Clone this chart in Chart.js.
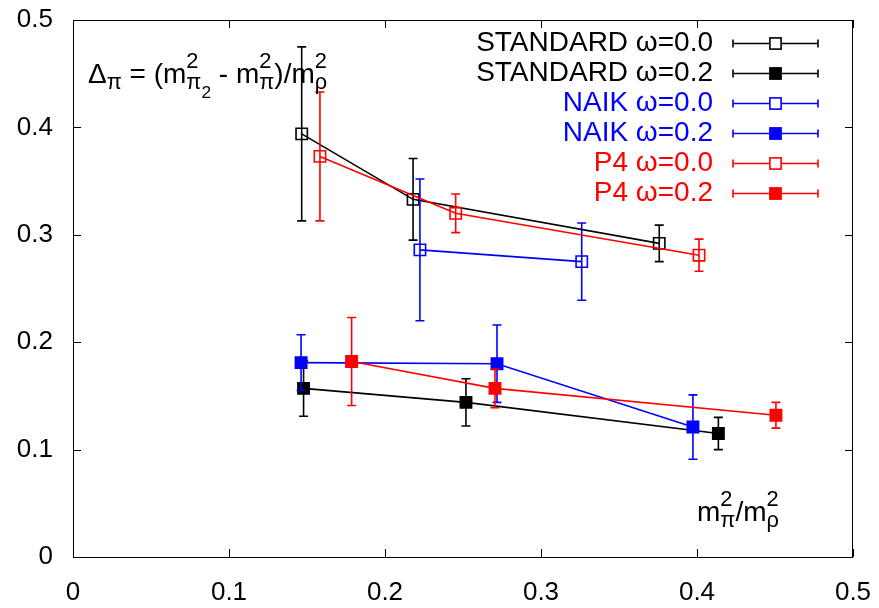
<!DOCTYPE html>
<html>
<head>
<meta charset="utf-8">
<title>Delta pi vs mpi2/mrho2</title>
<script src="https://cdn.jsdelivr.net/npm/chart.js@4.4.1/dist/chart.umd.min.js"></script>
<style>
  html, body { margin: 0; padding: 0; background: #fff; }
  #wrap { width: 879px; height: 608px; position: relative; }
</style>
</head>
<body>
<div id="wrap"><canvas id="deltaChart"></canvas></div>
<script>
// --- DATA ---
const seriesNames = ['STANDARD ω=0.0', 'STANDARD ω=0.2', 'NAIK ω=0.0', 'NAIK ω=0.2', 'P4 ω=0.0', 'P4 ω=0.2'];
const seriesColors = ['#000000', '#000000', '#0000ff', '#0000ff', '#ff0000', '#ff0000'];
const seriesFilled = [false, true, false, true, false, true];

const stdW0X = [0.1466, 0.2180, 0.3758];
const stdW0Y = [0.394, 0.333, 0.292];
const stdW0Err = [0.081, 0.038, 0.017];

const stdW2X = [0.1478, 0.2519, 0.4137];
const stdW2Y = [0.157, 0.144, 0.115];
const stdW2Err = [0.026, 0.022, 0.015];

const naikW0X = [0.2224, 0.3261];
const naikW0Y = [0.286, 0.275];
const naikW0Err = [0.066, 0.036];

const naikW2X = [0.1462, 0.2718, 0.3974];
const naikW2Y = [0.181, 0.180, 0.121];
const naikW2Err = [0.026, 0.036, 0.030];

const p4W0X = [0.1583, 0.2453, 0.4013];
const p4W0Y = [0.373, 0.320, 0.281];
const p4W0Err = [0.060, 0.018, 0.015];

const p4W2X = [0.1786, 0.2705, 0.4506];
const p4W2Y = [0.182, 0.157, 0.132];
const p4W2Err = [0.041, 0.018, 0.012];

const xTicks = [0, 0.1, 0.2, 0.3, 0.4, 0.5];
const yTicks = [0, 0.1, 0.2, 0.3, 0.4, 0.5];

const allX = [stdW0X, stdW2X, naikW0X, naikW2X, p4W0X, p4W2X];
const allY = [stdW0Y, stdW2Y, naikW0Y, naikW2Y, p4W0Y, p4W2Y];
const allErr = [stdW0Err, stdW2Err, naikW0Err, naikW2Err, p4W0Err, p4W2Err];

const FONT = "'Liberation Sans', Arial, Helvetica, sans-serif";

// gabung x dan y jadi titik {x, y}
const toPoints = (xs, ys) => xs.map((x, i) => ({ x: x, y: ys[i] }));

const datasets = seriesNames.map((name, k) => ({
    label: name,
    data: toPoints(allX[k], allY[k]),
    borderColor: seriesColors[k],
    borderWidth: 1.6,
    pointStyle: 'rect',
    pointRadius: 8,
    pointBorderWidth: 1.6,
    pointBorderColor: seriesColors[k],
    pointBackgroundColor: seriesFilled[k] ? seriesColors[k] : 'rgba(255,255,255,0)',
    showLine: true,
    tension: 0,
    order: seriesNames.length - k // seri terakhir digambar paling atas
}));

/**
 * Teks dengan superscript / subscript gaya gnuplot.
 * lv: 0 normal, 1 sup, -1 sub, -2 sub dari sub
 * keep: posisi x tidak maju, item berikutnya ditumpuk di atas/bawahnya
 */
const drawRich = (ctx, x, y, parts, size) => {
    let keepStart = null;
    let keepEnd = 0;
    parts.forEach(p => {
        const lv = p.lv || 0;
        let fs = size, dy = 0;
        if (lv === 1) { fs = size * 0.78; dy = -size * 0.55; }
        if (lv === -1) { fs = size * 0.78; dy = size * 0.22; }
        if (lv === -2) { fs = size * 0.62; dy = size * 0.52; }
        ctx.font = `${fs}px ${FONT}`;
        const w = ctx.measureText(p.t).width;
        const startX = keepStart !== null ? keepStart : x;
        ctx.fillText(p.t, startX, y + dy);
        if (p.keep) {
            keepStart = startX;
            keepEnd = startX + w;
            x = startX;
        } else {
            x = startX + w;
            if (keepStart !== null) {
                x = Math.max(x, keepEnd);
                keepStart = null;
            }
        }
    });
};

const deltaLabel = [
    { t: 'Δ' }, { t: 'π', lv: -1 },
    { t: ' = (m' }, { t: '2', lv: 1, keep: true }, { t: 'π', lv: -1 }, { t: '2', lv: -2 },
    { t: ' - m' }, { t: '2', lv: 1, keep: true }, { t: 'π', lv: -1 },
    { t: ')/m' }, { t: '2', lv: 1, keep: true }, { t: 'ρ', lv: -1 }
];
const xLabel = [
    { t: 'm' }, { t: '2', lv: 1, keep: true }, { t: 'π', lv: -1 },
    { t: '/m' }, { t: '2', lv: 1, keep: true }, { t: 'ρ', lv: -1 }
];

const drawSquare = (ctx, x, y, color, filled) => {
    const s = 5.6;
    ctx.lineWidth = 1.6;
    ctx.strokeStyle = color;
    ctx.fillStyle = filled ? color : '#fff';
    ctx.fillRect(x - s, y - s, 2 * s, 2 * s);
    ctx.strokeRect(x - s, y - s, 2 * s, 2 * s);
};

// plugin: error bar, bingkai, tick ke dalam, legenda dan label
const gnuplotLook = {
    id: 'gnuplotLook',
    beforeDatasetDraw(chart, args) {
        const k = args.index;
        const { ctx, scales: { x: xs, y: ys } } = chart;
        ctx.save();
        ctx.strokeStyle = seriesColors[k];
        ctx.lineWidth = 1.6;
        allX[k].forEach((xv, i) => {
            const px = xs.getPixelForValue(xv);
            const top = ys.getPixelForValue(allY[k][i] + allErr[k][i]);
            const bot = ys.getPixelForValue(allY[k][i] - allErr[k][i]);
            ctx.beginPath();
            ctx.moveTo(px, top); ctx.lineTo(px, bot);
            ctx.moveTo(px - 4.5, top); ctx.lineTo(px + 4.5, top);
            ctx.moveTo(px - 4.5, bot); ctx.lineTo(px + 4.5, bot);
            ctx.stroke();
        });
        ctx.restore();
    },
    afterDraw(chart) {
        const { ctx, chartArea: a, scales: { x: xs, y: ys } } = chart;
        ctx.save();

        // bingkai dan tick
        ctx.strokeStyle = '#000';
        ctx.lineWidth = 1;
        ctx.strokeRect(a.left + 0.5, a.top + 0.5, a.right - a.left - 1, a.bottom - a.top);
        ctx.beginPath();
        xTicks.forEach(v => {
            const px = Math.round(xs.getPixelForValue(v)) + 0.5;
            ctx.moveTo(px, a.bottom); ctx.lineTo(px, a.bottom - 8);
            ctx.moveTo(px, a.top); ctx.lineTo(px, a.top + 8);
        });
        yTicks.forEach(v => {
            const py = Math.round(ys.getPixelForValue(v)) + 0.5;
            ctx.moveTo(a.left, py); ctx.lineTo(a.left + 8, py);
            ctx.moveTo(a.right, py); ctx.lineTo(a.right - 8, py);
        });
        ctx.stroke();

        // legenda
        const textRight = a.right - 140;
        const lineL = a.right - 120;
        const lineR = a.right - 35;
        seriesNames.forEach((name, k) => {
            const y = a.top + 23.5 + k * 30;
            ctx.fillStyle = seriesColors[k];
            ctx.font = `28px ${FONT}`;
            ctx.textAlign = 'right';
            ctx.textBaseline = 'middle';
            ctx.fillText(name, textRight, y);
            ctx.strokeStyle = seriesColors[k];
            ctx.lineWidth = 1.6;
            ctx.beginPath();
            ctx.moveTo(lineL, y); ctx.lineTo(lineR, y);
            ctx.moveTo(lineL, y - 4); ctx.lineTo(lineL, y + 4);
            ctx.moveTo(lineR, y - 4); ctx.lineTo(lineR, y + 4);
            ctx.stroke();
            drawSquare(ctx, (lineL + lineR) / 2, y, seriesColors[k], seriesFilled[k]);
        });

        // label sumbu di dalam area plot
        ctx.fillStyle = '#000';
        ctx.textAlign = 'left';
        ctx.textBaseline = 'alphabetic';
        drawRich(ctx, a.left + 15, a.top + 63, deltaLabel, 28);
        drawRich(ctx, a.right - 156, a.bottom - 36, xLabel, 28);
        ctx.restore();
    }
};

const ctx = document.getElementById('deltaChart').getContext('2d');
const deltaChart = new Chart(ctx, {
    type: 'line',
    data: { datasets: datasets },
    options: {
        responsive: true,
        maintainAspectRatio: false,
        animation: false,
        events: [],
        layout: { padding: { left: 0, top: 20, right: 26, bottom: 0 } },
        plugins: {
            legend: { display: false },
            tooltip: { enabled: false }
        },
        scales: {
            x: {
                type: 'linear',
                min: 0,
                max: 0.5,
                afterBuildTicks: (scale) => { scale.ticks = xTicks.map(v => ({ value: v })); },
                afterFit: (scale) => {
                    scale.height = 51;
                    scale.paddingLeft = 0;
                    scale.paddingRight = 0;
                },
                grid: { display: false, drawTicks: false },
                border: { display: false },
                ticks: { color: '#000', padding: 20, maxRotation: 0, font: { family: FONT, size: 26 } }
            },
            y: {
                type: 'linear',
                min: 0,
                max: 0.5,
                afterBuildTicks: (scale) => { scale.ticks = yTicks.map(v => ({ value: v })); },
                afterFit: (scale) => {
                    scale.width = 73;
                    scale.paddingTop = 0;
                    scale.paddingBottom = 0;
                },
                grid: { display: false, drawTicks: false },
                border: { display: false },
                ticks: { color: '#000', padding: 20, font: { family: FONT, size: 26 } }
            }
        }
    },
    plugins: [gnuplotLook]
});
</script>
</body>
</html>
